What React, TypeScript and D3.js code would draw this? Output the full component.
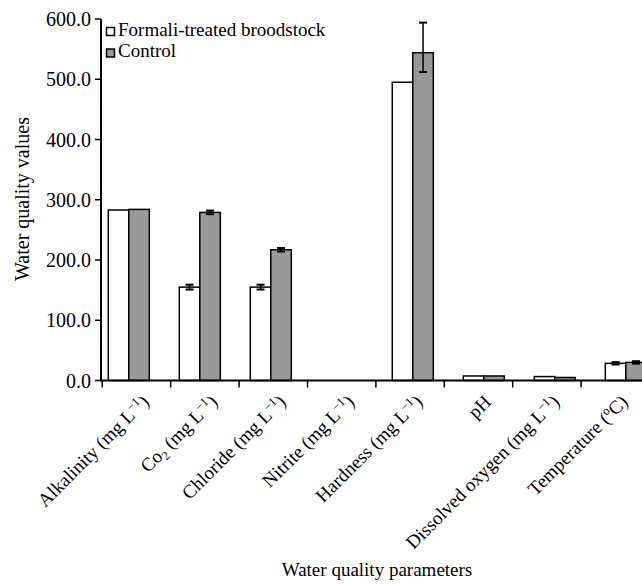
import React from "react";
import * as d3 from "d3";

const categories = ["Alkalinity", "Co2", "Chloride", "Nitrite", "Hardness", "pH", "Dissolved oxygen", "Temperature"];
const seriesNames = ["Formali-treated broodstock", "Control"];
const treated = [283, 155, 155, 0, 495, 7.5, 6.5, 28.5];
const control = [284, 279, 217, 0, 544, 7.5, 5, 30];
const treatedErr = [0, 4, 4, 0, 0, 0, 0, 2];
const controlErrUp = [0, 3, 3, 0, 50, 0, 0, 2];
const controlErrDown = [0, 3, 3, 0, 32, 0, 0, 2];
const yTicks = [0, 100, 200, 300, 400, 500, 600];
// label segments: [text, shift] shift: 0 normal, 1 superscript, -1 subscript
const tickLabels: [string, number][][] = [
  [["Alkalinity (mg L", 0], ["\u2212", 1], ["1", 1], [")", 0]],
  [["Co", 0], ["2", -1], [" (mg L", 0], ["\u2212", 1], ["1", 1], [")", 0]],
  [["Chloride (mg L", 0], ["\u2212", 1], ["1", 1], [")", 0]],
  [["Nitrite (mg L", 0], ["\u2212", 1], ["1", 1], [")", 0]],
  [["Hardness (mg L", 0], ["\u2212", 1], ["1", 1], [")", 0]],
  [["pH", 0]],
  [["Dissolved oxygen (mg L", 0], ["\u2212", 1], ["1", 1], [")", 0]],
  [["Temperature (", 0], ["o", 1], ["C)", 0]],
];
const xTitle = "Water quality parameters";
const yTitle = "Water quality values";

const W = 642, H = 584;
const FONT = "'Liberation Serif', 'Times New Roman', serif";
const GRAY = "#999999";
const FS = 19;

export default function App() {
  const y = d3.scaleLinear().domain([0, 600]).range([380.5, 19]);
  const barBand = d3.scaleBand<string>().domain(categories).range([101, 101 + 8 * 71]);
  const inner = d3.scaleBand<string>().domain(seriesNames).range([7.3, 7.3 + 41]);
  const tickBand = d3.scaleBand<string>().domain(categories).range([102.3, 102.3 + 8 * 68.4]);
  const axisX = 101;
  const axisY = y(0);

  const renderLabel = (segs: [string, number][]) => {
    const out: React.ReactNode[] = [];
    let cur = 0;
    segs.forEach((s, i) => {
      const target = s[1] === 1 ? -7 : s[1] === -1 ? 4 : 0;
      const dy = target - cur;
      cur = target;
      out.push(
        <tspan key={i} dy={dy} fontSize={s[1] === 0 ? FS : 12.5}>
          {s[0]}
        </tspan>
      );
    });
    return out;
  };

  const errBar = (x: number, v: number, up: number, down: number, key: string) => {
    if (up === 0 && down === 0) return null;
    const y1 = y(v + up), y2 = y(v - down);
    return (
      <g key={key} stroke="#000">
        <line x1={x} x2={x} y1={y1} y2={y2} strokeWidth={1.5} />
        <line x1={x - 4} x2={x + 4} y1={y1} y2={y1} strokeWidth={2} />
        <line x1={x - 4} x2={x + 4} y1={y2} y2={y2} strokeWidth={2} />
      </g>
    );
  };

  return (
    <svg width={W} height={H} style={{ position: "absolute", left: 0, top: 0, background: "#fff" }} fontFamily={FONT}>
      {/* bars */}
      {categories.map((c, i) => {
        const gx = barBand(c)!;
        const bw = inner.bandwidth();
        const xs = gx + inner(seriesNames[0])!;
        const xc = gx + inner(seriesNames[1])!;
        return (
          <g key={c}>
            {treated[i] > 0 && (
              <rect x={xs} y={y(treated[i])} width={bw} height={axisY - y(treated[i])} fill="#fff" stroke="#000" strokeWidth={1.5} />
            )}
            {control[i] > 0 && (
              <rect x={xc} y={y(control[i])} width={bw} height={axisY - y(control[i])} fill={GRAY} stroke="#000" strokeWidth={1.5} />
            )}
            {errBar(xs + bw / 2, treated[i], treatedErr[i], treatedErr[i], "et" + i)}
            {errBar(xc + bw / 2, control[i], controlErrUp[i], controlErrDown[i], "ec" + i)}
          </g>
        );
      })}
      {/* y axis */}
      <line x1={axisX} x2={axisX} y1={y(600)} y2={axisY + 1} stroke="#000" strokeWidth={2} />
      {yTicks.map((t) => (
        <g key={t}>
          <line x1={axisX - 6} x2={axisX} y1={y(t)} y2={y(t)} stroke="#000" strokeWidth={1.5} />
          <text x={axisX - 10} y={y(t)} dy="0.35em" textAnchor="end" fontSize={20} fill="#000">
            {d3.format(".1f")(t)}
          </text>
        </g>
      ))}
      {/* x axis */}
      <line x1={axisX} x2={W} y1={axisY} y2={axisY} stroke="#000" strokeWidth={2} />
      {categories.map((c) => (
        <line key={c} x1={tickBand(c)!} x2={tickBand(c)!} y1={axisY} y2={axisY + 7} stroke="#000" strokeWidth={1.5} />
      ))}
      {categories.map((c, i) => {
        const ax = tickBand(c)! + tickBand.bandwidth() / 2 + 13.7;
        return (
          <text key={c} transform={`translate(${ax},403) rotate(-45)`} textAnchor="end" fill="#000">
            {renderLabel(tickLabels[i])}
          </text>
        );
      })}
      {/* titles */}
      <text transform="translate(29,199) rotate(-90)" textAnchor="middle" fontSize={20} fill="#000">
        {yTitle}
      </text>
      <text x={377} y={576} textAnchor="middle" fontSize={FS} fill="#000">
        {xTitle}
      </text>
      {/* legend */}
      {seriesNames.map((s, i) => (
        <g key={s}>
          <rect x={106.5} y={27.5 + i * 21.5} width={8} height={8} fill={i === 0 ? "#fff" : GRAY} stroke="#000" strokeWidth={1.5} />
          <text x={118} y={35.5 + i * 21.5} fontSize={FS} fill="#000">
            {s}
          </text>
        </g>
      ))}
    </svg>
  );
}
